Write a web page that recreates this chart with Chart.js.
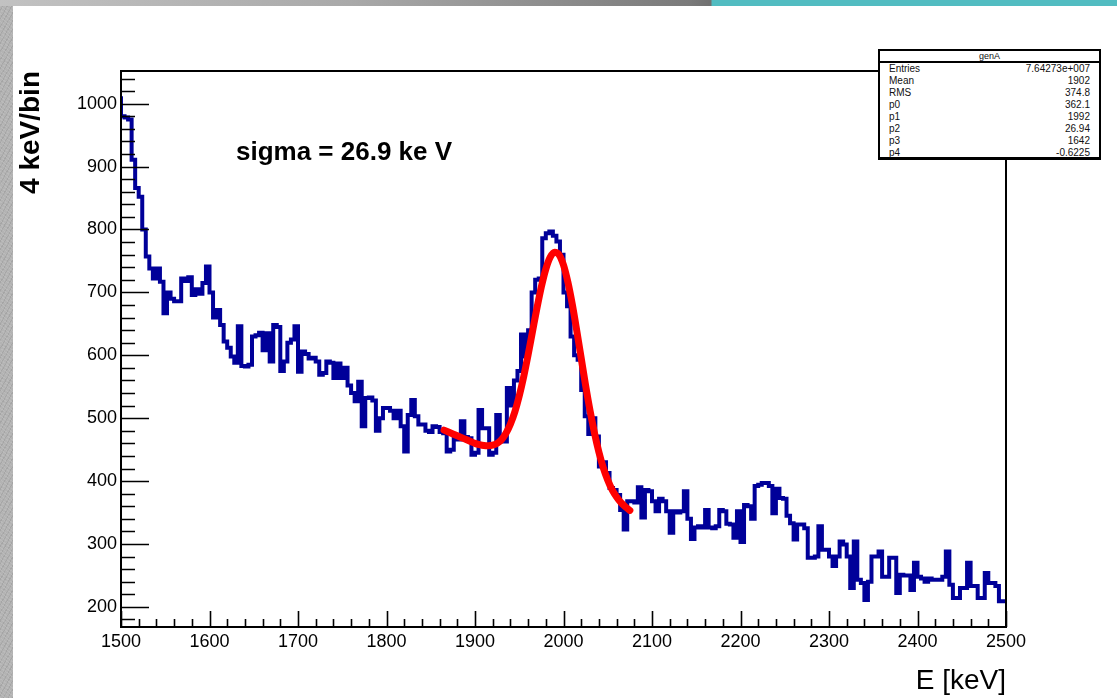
<!DOCTYPE html>
<html>
<head>
<meta charset="utf-8">
<title>E spectrum</title>
<script src="https://cdn.jsdelivr.net/npm/chart.js@4.4.1/dist/chart.umd.min.js"></script>
<style>
  html, body { margin: 0; padding: 0; width: 1117px; height: 698px; overflow: hidden; background: #fff; }
  #page { position: relative; width: 1117px; height: 698px; background: #fff; }
  #edgeLeft {
    position: absolute; left: 0; top: 0; width: 13px; height: 698px;
    background:
      repeating-linear-gradient(37deg, rgba(255,255,255,0.10) 0 1px, rgba(0,0,0,0) 1px 3px),
      repeating-linear-gradient(-61deg, rgba(0,0,0,0.08) 0 1px, rgba(0,0,0,0) 1px 4px),
      #b3b3b3;
  }
  #edgeTop {
    position: absolute; left: 0; top: 0; width: 1117px; height: 6px;
    background: linear-gradient(to right, #c2c2c2 0px, #a9a9a9 350px, #7a7a7a 690px, #707070 711px, #52bcc1 712px, #52bcc1 1117px);
  }
  #plot { position: absolute; left: 0; top: 0; width: 1117px; height: 698px; }
  #note {
    position: absolute; left: 236px; top: 136px;
    font: bold 26px "Liberation Sans", Arial, sans-serif; color: #000; white-space: nowrap;
  }
  #stats {
    position: absolute; left: 878px; top: 49px; width: 219px; height: 106px;
    border: 2px solid #000; border-bottom-width: 3px; background: #fff;
    font: 10px "Liberation Sans", Arial, sans-serif; color: #111;
  }
  #stats .hdr { height: 10px; line-height: 10px; text-align: center; border-bottom: 2px solid #000; font-size: 9px; }
  #stats .row { display: flex; justify-content: space-between; height: 12px; line-height: 12px; padding: 0 9px 0 9px; }
</style>
</head>
<body>
<div id="page">
  <div id="edgeLeft"></div>
  <div id="edgeTop"></div>
  <canvas id="plot" width="1117" height="698"></canvas>
  <div id="note">sigma = 26.9 ke V</div>
  <div id="stats"></div>
</div>
<script>
// Histogram: 250 bins of 4 keV from 1500 to 2500 keV (counts per bin)
const binStart = 1500;
const binWidth = 4;
const counts = [
  1012, 980, 978, 975, 911, 866, 852, 800, 757, 738,
  722, 738, 717, 667, 700, 690, 686, 686, 722, 718,
  724, 696, 705, 698, 715, 741, 700, 660, 672, 648,
  622, 612, 598, 588, 646, 583, 582, 585, 630, 632,
  636, 608, 635, 590, 648, 645, 575, 590, 620, 625,
  646, 574, 606, 602, 595, 596, 590, 569, 572, 590,
  588, 564, 587, 564, 580, 552, 540, 527, 558, 487,
  532, 533, 528, 480, 500, 516, 516, 512, 500, 512,
  487, 447, 505, 529, 503, 490, 490, 480, 478, 487,
  486, 478, 476, 447, 450, 468, 466, 495, 470, 468,
  442, 445, 513, 484, 484, 442, 445, 505, 470, 463,
  548, 520, 560, 575, 633, 598, 640, 700, 720, 722,
  786, 794, 797, 790, 781, 760, 700, 678, 630, 600,
  593, 545, 503, 475, 500, 471, 423, 430, 413, 389,
  386, 378, 354, 323, 368, 368, 366, 390, 342, 386,
  384, 368, 352, 372, 368, 352, 318, 352, 350, 352,
  384, 340, 308, 326, 328, 326, 354, 326, 325, 328,
  354, 352, 332, 331, 310, 352, 303, 362, 360, 340,
  392, 394, 397, 397, 392, 349, 388, 373, 372, 345,
  333, 307, 331, 331, 325, 278, 278, 280, 328, 291,
  291, 280, 265, 280, 304, 299, 280, 230, 304, 243,
  238, 211, 240, 280, 280, 288, 248, 248, 278, 278,
  222, 251, 250, 250, 227, 270, 248, 245, 240, 245,
  243, 243, 243, 248, 288, 235, 214, 214, 230, 230,
  270, 233, 233, 214, 214, 254, 238, 238, 233, 209
];

// Fitted curve (gaus + pol1) sampled over the fit window, keV -> counts
const fitEnergy = [
  1865, 1870, 1875, 1880, 1885, 1890, 1895, 1900, 1905, 1910,
  1915, 1920, 1925, 1930, 1935, 1940, 1945, 1950, 1955, 1960,
  1965, 1970, 1975, 1980, 1985, 1990, 1995, 2000, 2005, 2010,
  2015, 2020, 2025, 2030, 2035, 2040, 2045, 2050, 2055, 2060,
  2065, 2070, 2075
];
const fitValue = [
  481, 478, 475, 472, 469, 466, 463, 460, 458, 456.5,
  456, 457, 460, 466, 476, 490.5, 510, 535.5, 566, 600.7,
  638, 675, 709, 737, 756, 764, 760, 743.5, 716, 680.5,
  639, 595.5, 552, 512, 476.5, 446, 421, 401.5, 386, 374.6,
  365.7, 358.9, 353.4
];

// Axis ticks
const xTickValues = [1500, 1600, 1700, 1800, 1900, 2000, 2100, 2200, 2300, 2400, 2500];
const xMinorStep = 20;
const yTickValues = [200, 300, 400, 500, 600, 700, 800, 900, 1000];
const yMinorStep = 20;
const yMin = 168, yMax = 1052;

// Statistics box
const statTitle = 'genA';
const statLabels = ['Entries', 'Mean', 'RMS', 'p0', 'p1', 'p2', 'p3', 'p4'];
const statValues = ['7.64273e+007', '1902', '374.8', '362.1', '1992', '26.94', '1642', '-0.6225'];

const statsBox = document.getElementById('stats');
const hdr = document.createElement('div');
hdr.className = 'hdr';
hdr.textContent = statTitle;
statsBox.appendChild(hdr);
statLabels.forEach((lab, i) => {
  const row = document.createElement('div');
  row.className = 'row';
  const a = document.createElement('span'); a.textContent = lab;
  const b = document.createElement('span'); b.textContent = statValues[i];
  row.appendChild(a); row.appendChild(b);
  statsBox.appendChild(row);
});

const histPoints = counts.map((c, i) => ({ x: binStart + i * binWidth, y: c }));
histPoints.push({ x: binStart + counts.length * binWidth, y: counts[counts.length - 1] });
const fitPoints = fitEnergy.map((e, i) => ({ x: e, y: fitValue[i] }));

const tickFont = { family: "'Liberation Sans Narrow', 'Liberation Sans', Arial, sans-serif", size: 18 };

// Frame and inward tick marks in the ROOT style
const frameTicks = {
  id: 'frameTicks',
  afterDatasetsDraw(chart) {
    const { ctx, chartArea: a, scales: { x, y } } = chart;
    ctx.save();
    ctx.strokeStyle = '#000';
    ctx.lineWidth = 1.6;
    ctx.beginPath();
    for (let v = x.min; v <= x.max + 1e-6; v += xMinorStep) {
      const px = Math.round(x.getPixelForValue(v)) + 0.5;
      const major = xTickValues.includes(v);
      ctx.moveTo(px, a.bottom);
      ctx.lineTo(px, a.bottom - (major ? 16 : 8));
    }
    const yStart = Math.ceil(yMin / yMinorStep) * yMinorStep;
    for (let v = yStart; v <= yMax; v += yMinorStep) {
      const py = Math.round(y.getPixelForValue(v)) + 0.5;
      const major = yTickValues.includes(v);
      ctx.moveTo(a.left, py);
      ctx.lineTo(a.left + (major ? 28 : 14), py);
    }
    ctx.stroke();
    ctx.lineWidth = 2;
    ctx.strokeRect(a.left, a.top, a.right - a.left, a.bottom - a.top);
    ctx.restore();
  }
};

new Chart(document.getElementById('plot'), {
  type: 'line',
  data: {
    datasets: [
      {
        data: histPoints,
        stepped: 'after',
        borderColor: '#000099',
        borderWidth: 4,
        borderJoinStyle: 'miter',
        pointRadius: 0,
        fill: false,
        order: 2
      },
      {
        data: fitPoints,
        borderColor: '#ff0000',
        borderWidth: 7,
        borderCapStyle: 'round',
        borderJoinStyle: 'round',
        cubicInterpolationMode: 'monotone',
        pointRadius: 0,
        fill: false,
        order: 1
      }
    ]
  },
  options: {
    responsive: false,
    animation: false,
    events: [],
    layout: { padding: { left: 0, top: 71, right: 111, bottom: 0 } },
    plugins: { legend: { display: false }, tooltip: { enabled: false } },
    scales: {
      x: {
        type: 'linear',
        min: 1500,
        max: 2500,
        grid: { display: false, drawTicks: false },
        border: { display: false },
        afterBuildTicks: s => { s.ticks = xTickValues.map(v => ({ value: v })); },
        afterFit: s => { s.height = 71; },
        ticks: { padding: 4, color: '#000', font: tickFont, maxRotation: 0, autoSkip: false, callback: v => String(v) },
        title: {
          display: true, text: 'E [keV]', align: 'end', color: '#000',
          font: { family: "'Liberation Sans Narrow', 'Liberation Sans', Arial, sans-serif", size: 28 },
          padding: { top: 0, bottom: 0 }
        }
      },
      y: {
        type: 'linear',
        min: yMin,
        max: yMax,
        grid: { display: false, drawTicks: false },
        border: { display: false },
        afterBuildTicks: s => { s.ticks = yTickValues.map(v => ({ value: v })); },
        afterFit: s => { s.width = 121; },
        ticks: { padding: 4, color: '#000', font: tickFont, autoSkip: false, callback: v => String(v) },
        title: {
          display: true, text: '4 keV/bin', align: 'end', color: '#000',
          font: { family: "'Liberation Sans', Arial, sans-serif", size: 28, weight: 'bold' },
          padding: { top: 14, bottom: 0 }
        }
      }
    }
  },
  plugins: [frameTicks]
});
</script>
</body>
</html>
